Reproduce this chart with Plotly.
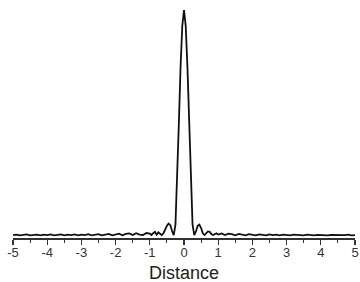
import plotly.graph_objects as go

# Distance values (x) and signal intensity (y)
x_left_tail = [-5.0, -4.9, -4.8, -4.7, -4.6, -4.5, -4.4, -4.3, -4.2, -4.1,
               -4.0, -3.9, -3.8, -3.7, -3.6, -3.5, -3.4, -3.3, -3.2, -3.1,
               -3.0, -2.9, -2.8, -2.7, -2.6, -2.5, -2.4, -2.3, -2.2, -2.1,
               -2.0, -1.9, -1.8, -1.7, -1.6, -1.5, -1.4, -1.3, -1.2, -1.1]
y_left_tail = [0.004, 0.006, 0.003, 0.005, 0.007, 0.003, 0.005, 0.006, 0.003, 0.006,
               0.004, 0.007, 0.003, 0.005, 0.007, 0.003, 0.006, 0.004, 0.007, 0.003,
               0.006, 0.004, 0.008, 0.003, 0.006, 0.008, 0.003, 0.007, 0.009, 0.003,
               0.008, 0.010, 0.003, 0.009, 0.011, 0.004, 0.012, 0.006, 0.004, 0.013]

x_center = [-1.00, -0.95, -0.90, -0.85, -0.80, -0.75, -0.70, -0.65, -0.60, -0.55,
            -0.50, -0.45, -0.40, -0.35, -0.30, -0.25, -0.20, -0.15, -0.10, -0.05,
            0.00, 0.05, 0.10, 0.15, 0.20, 0.25, 0.30, 0.35, 0.40, 0.45,
            0.50, 0.55, 0.60, 0.65, 0.70, 0.75, 0.80, 0.85, 0.90, 0.95, 1.00]
y_center = [0.010, 0.004, 0.012, 0.018, 0.006, 0.016, 0.010, 0.004, 0.012, 0.030,
            0.045, 0.055, 0.048, 0.022, 0.004, 0.050, 0.250, 0.500, 0.750, 0.930,
            1.000, 0.930, 0.750, 0.500, 0.250, 0.050, 0.004, 0.020, 0.045, 0.050,
            0.035, 0.012, 0.004, 0.010, 0.020, 0.018, 0.008, 0.004, 0.008, 0.012, 0.006]

x_right_tail = [1.1, 1.2, 1.3, 1.4, 1.5, 1.6, 1.7, 1.8, 1.9, 2.0,
                2.1, 2.2, 2.3, 2.4, 2.5, 2.6, 2.7, 2.8, 2.9, 3.0,
                3.1, 3.2, 3.3, 3.4, 3.5, 3.6, 3.7, 3.8, 3.9, 4.0,
                4.1, 4.2, 4.3, 4.4, 4.5, 4.6, 4.7, 4.8, 4.9, 5.0]
y_right_tail = [0.011, 0.004, 0.010, 0.008, 0.003, 0.009, 0.007, 0.003, 0.008, 0.006,
                0.003, 0.007, 0.005, 0.003, 0.007, 0.004, 0.006, 0.003, 0.006, 0.004,
                0.003, 0.006, 0.004, 0.005, 0.003, 0.006, 0.004, 0.003, 0.005, 0.004,
                0.006, 0.003, 0.005, 0.004, 0.003, 0.005, 0.004, 0.006, 0.003, 0.004]

tick_vals = [-5, -4, -3, -2, -1, 0, 1, 2, 3, 4, 5]
tick_text = ["-5", "-4", "-3", "-2", "-1", "0", "1", "2", "3", "4", "5"]
x_title = "Distance"

x = x_left_tail + x_center + x_right_tail
y = y_left_tail + y_center + y_right_tail

fig = go.Figure()
fig.add_trace(go.Scatter(x=x, y=y, mode="lines",
                         line=dict(color="#111111", width=1.8),
                         showlegend=False, hoverinfo="skip"))

fig.update_layout(
    width=360, height=282,
    margin=dict(l=13, r=5, t=10, b=44),
    paper_bgcolor="white", plot_bgcolor="white",
    font=dict(family="Liberation Sans, Arial, sans-serif", color="#222222"),
    annotations=[dict(text=x_title, x=0.5, y=0, xref="paper", yref="paper",
                      xanchor="center", yanchor="middle", yshift=-35,
                      showarrow=False, font=dict(size=18, color="#222222"))],
)
fig.update_xaxes(
    range=[-5, 5], automargin=False,
    tickvals=tick_vals, ticktext=tick_text,
    tickfont=dict(size=13, color="#333333"),
    ticklabelstandoff=-3, ticklabeloverflow="allow",
    ticks="outside", ticklen=5, tickwidth=1.2, tickcolor="#333333",
    minor=dict(dtick=0.5, ticks="outside", ticklen=3, tickwidth=1, tickcolor="#333333"),
    showline=True, linecolor="#333333", linewidth=1.5,
    showgrid=False, zeroline=False,
)
fig.update_yaxes(range=[-0.009, 1.0], visible=False, showgrid=False, zeroline=False,
                 automargin=False)

fig.write_html("out.html",
               config={"displayModeBar": False, "staticPlot": True},
               post_script="document.body.style.margin='0px';document.body.style.overflow='hidden';")
